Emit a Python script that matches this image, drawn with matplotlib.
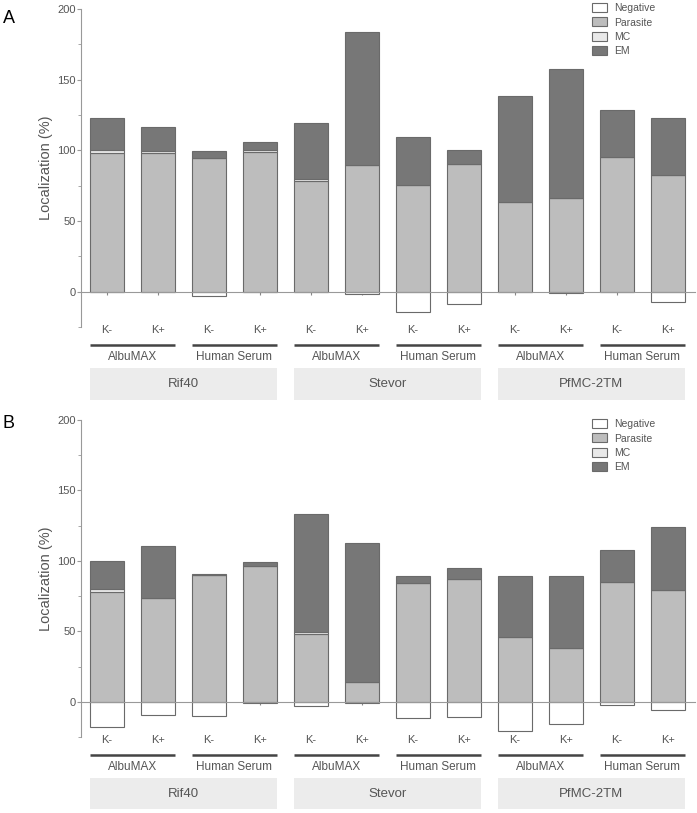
import numpy as np
import matplotlib
matplotlib.use("Agg")
import matplotlib.pyplot as plt
from matplotlib.patches import Patch, Rectangle
from matplotlib.ticker import MultipleLocator

plt.rcParams['font.family'] = ['Liberation Sans', 'DejaVu Sans']

# data
kinase = ["K-", "K+"] * 6
media = ["AlbuMAX", "Human Serum"] * 3
proteins = ["Rif40", "Stevor", "PfMC-2TM"]

# panel A
a_negative = [-0.5, -0.5, -3.3, -0.5, -0.5, -1.9, -14.1, -8.7, -0.3, -0.7, -0.3, -7.5]
a_parasite = [98.0, 98.0, 94.3, 98.8, 78.4, 89.6, 75.3, 90.4, 63.5, 66.1, 95.3, 82.6]
a_mc = [2.5, 1.5, 0.3, 1.5, 1.0, 0.0, 0.0, 0.0, 0.0, 0.0, 0.0, 0.0]
a_em = [22.5, 17.0, 4.7, 5.5, 40.0, 94.4, 33.9, 10.1, 74.9, 91.5, 32.9, 40.4]

# panel B
b_negative = [-18.0, -9.7, -10.2, -1.2, -2.8, -0.9, -11.6, -10.6, -20.8, -15.8, -2.1, -5.7]
b_parasite = [78.0, 74.0, 90.0, 96.7, 48.0, 14.2, 84.6, 87.5, 46.3, 38.5, 84.9, 79.0]
b_mc = [2.0, 0.0, 0.0, 0.0, 1.2, 0.0, 0.0, 0.0, 0.0, 0.0, 0.0, 0.0]
b_em = [20.0, 36.9, 0.8, 2.3, 84.1, 98.3, 5.0, 7.8, 43.1, 50.9, 23.1, 45.1]

c_neg = "white"
c_par = "#bdbdbd"
c_mc = "#e9e9e9"
c_em = "#777777"
edge = "#6a6a6a"
txt = "#555555"

fig = plt.figure(figsize=(6.97, 8.13), dpi=100)
W, H = 697, 813


def panel(rect, neg, par, mc, em, letter, letter_xy, legend_top):
    ax = fig.add_axes(rect)
    x = np.arange(len(par))
    par = np.array(par)
    mc = np.array(mc)
    em = np.array(em)
    w = 0.67
    kw = dict(width=w, edgecolor=edge, linewidth=0.8, zorder=2)
    ax.bar(x, neg, color=c_neg, **kw)
    ax.bar(x, par, color=c_par, **kw)
    ax.bar(x, mc, bottom=par, color=c_mc, **kw)
    ax.bar(x, em, bottom=par + mc, color=c_em, **kw)

    ax.set_xlim(-0.51, 11.53)
    ax.set_ylim(-25, 200)
    ax.yaxis.set_major_locator(MultipleLocator(50))
    ax.yaxis.set_minor_locator(MultipleLocator(25))
    for s in ["top", "right"]:
        ax.spines[s].set_visible(False)
    ax.spines["left"].set_color("#999999")
    ax.spines["bottom"].set_color("#999999")
    ax.spines["bottom"].set_position(("data", 0))
    ax.spines["bottom"].set_zorder(3)
    ax.set_xticks(x)
    ax.set_xticklabels([])
    ax.tick_params(axis="x", direction="out", length=2, color="#888888")
    ax.tick_params(axis="y", which="major", length=3, color="#999999",
                   labelsize=8, labelcolor=txt, pad=1)
    ax.tick_params(axis="y", which="minor", length=2, color="#999999")
    ax.set_ylabel("Localization (%)", fontsize=10.5, color=txt)
    ax.yaxis.set_label_coords(-0.046, 0.5)

    tr = ax.get_xaxis_transform()
    for i, k in enumerate(kinase):
        ax.text(x[i], -0.01, k, transform=tr, ha="center", va="center",
                fontsize=8, color=txt, clip_on=False)
    for j, m in enumerate(media):
        x0 = x[2 * j] - w / 2
        x1 = x[2 * j + 1] + w / 2
        ax.plot([x0, x1], [-0.056, -0.056], transform=tr, color="#444444",
                lw=1.8, clip_on=False, solid_capstyle="butt")
        ax.text((x0 + x1) / 2, -0.094, m, transform=tr, ha="center",
                va="center", fontsize=8.5, color=txt, clip_on=False)
    for j, p in enumerate(proteins):
        x0 = x[4 * j] - w / 2
        x1 = x[4 * j + 3] + w / 2
        ax.add_patch(Rectangle((x0, -0.228), x1 - x0, 0.1, transform=tr,
                               facecolor="#ececec", edgecolor="none",
                               clip_on=False))
        ax.text((x0 + x1) / 2, -0.18, p, transform=tr, ha="center",
                va="center", fontsize=9.5, color=txt, clip_on=False)

    fig.text(letter_xy[0] / W, 1 - letter_xy[1] / H, letter, fontsize=13,
             ha="left", va="top")

    handles = [Patch(facecolor=c_neg, edgecolor=edge, lw=0.8),
               Patch(facecolor=c_par, edgecolor=edge, lw=0.8),
               Patch(facecolor=c_mc, edgecolor=edge, lw=0.8),
               Patch(facecolor=c_em, edgecolor=edge, lw=0.8)]
    leg = fig.legend(handles, ["Negative", "Parasite", "MC", "EM"],
                     loc="upper left",
                     bbox_to_anchor=(592 / W, 1 - legend_top / H),
                     frameon=False, fontsize=7.5, borderpad=0,
                     borderaxespad=0, handlelength=1.45, handleheight=0.95,
                     labelspacing=0.42, handletextpad=0.7)
    for t in leg.get_texts():
        t.set_color(txt)
    return ax


panel([81 / W, 1 - 327 / H, 614 / W, 318 / H],
      a_negative, a_parasite, a_mc, a_em, "A", (3, 10), 3)
panel([81 / W, 1 - 737 / H, 614 / W, 317 / H],
      b_negative, b_parasite, b_mc, b_em, "B", (3, 415), 419)

fig.savefig("out.png", dpi=100)
